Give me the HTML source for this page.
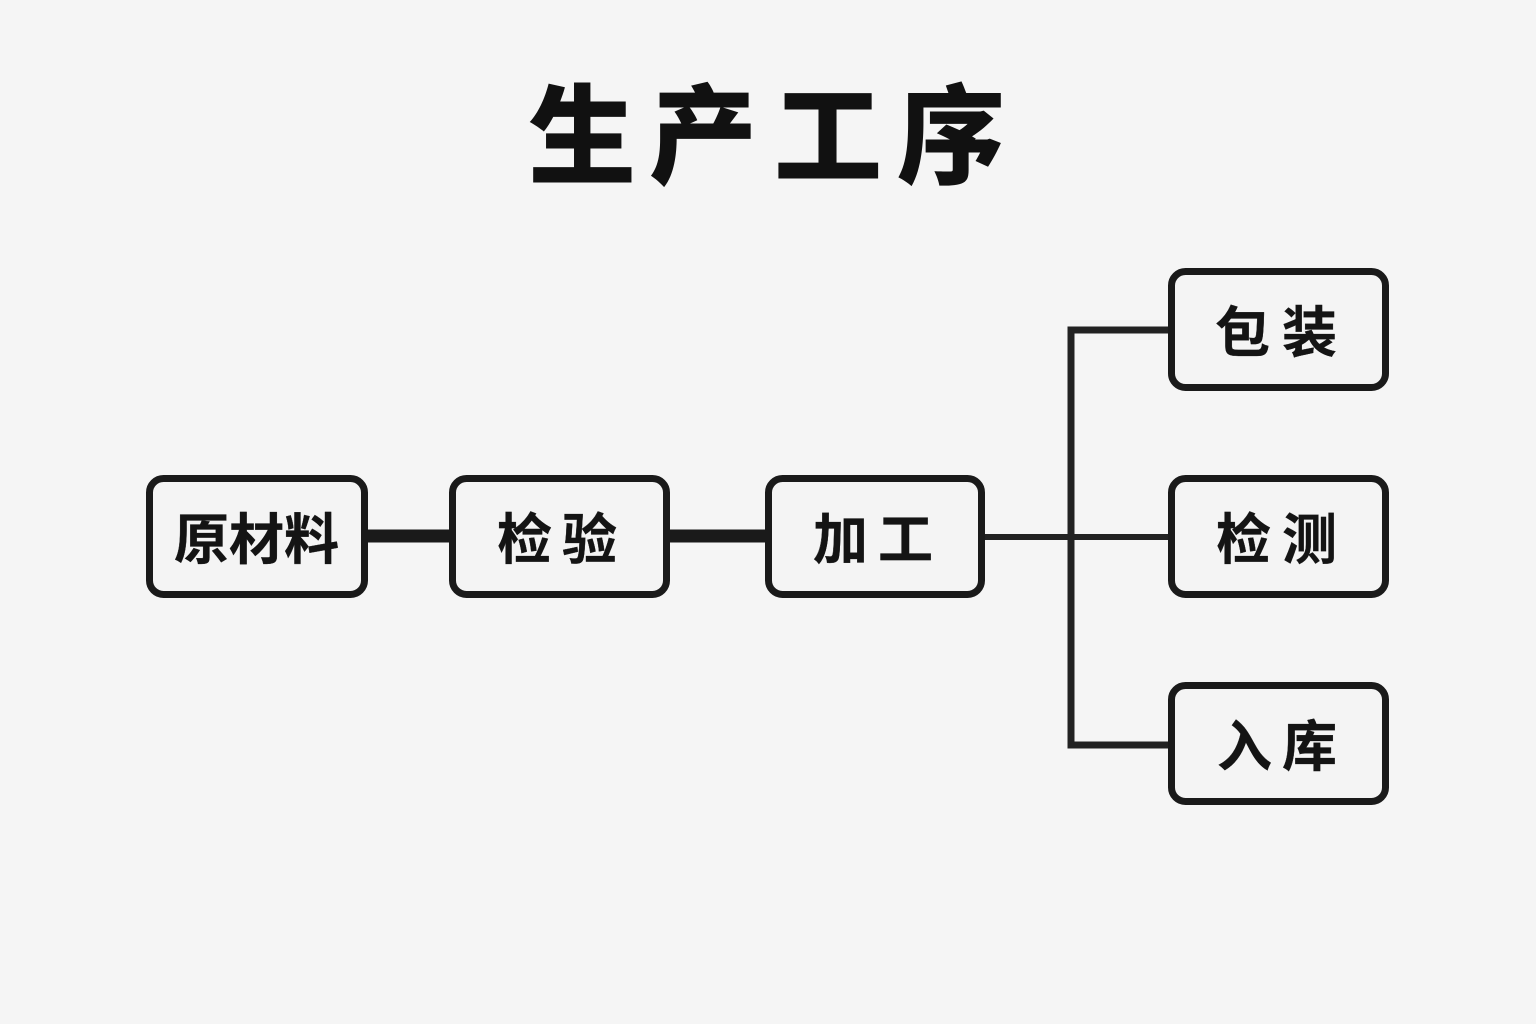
<!DOCTYPE html>
<html lang="zh">
<head>
<meta charset="utf-8">
<style>
html,body{margin:0;padding:0;background:#f5f5f5;}
svg{display:block;}
text{font-family:"Liberation Sans","Noto Sans CJK SC",sans-serif;font-weight:700;fill:#141414;}
.t{font-weight:900;fill:#111;}
.l{stroke:#141414;stroke-width:.3;}
</style>
</head>
<body>
<svg width="1536" height="1024" viewBox="0 0 1536 1024" xmlns="http://www.w3.org/2000/svg">
<rect width="1536" height="1024" fill="#f5f5f5"/>
<g fill="none" stroke="#1a1a1a">
<path d="M366 536H452M667 536H768" stroke-width="13"/>
<path d="M983 537H1170" stroke-width="6" stroke="#222"/>
<path d="M1170 330H1071V745H1170" stroke-width="7" stroke="#222"/>
</g>
<g fill="#f4f4f4" stroke="#1a1a1a" stroke-width="7">
<rect x="149.500" y="478.500" width="215" height="116" rx="14"/>
<rect x="452.500" y="478.500" width="214" height="116" rx="14"/>
<rect x="768.500" y="478.500" width="213" height="116" rx="14"/>
<rect x="1171.500" y="271.500" width="214" height="116" rx="14"/>
<rect x="1171.500" y="478.500" width="214" height="116" rx="14"/>
<rect x="1171.500" y="685.500" width="214" height="116" rx="14"/>
</g>
<text class="t" x="528 649 774 897" y="175" font-size="108">生产工序</text>
<text class="l" x="174" y="559" font-size="55" textLength="165" lengthAdjust="spacing">原材料</text>
<text class="l" x="497" y="559" font-size="55" textLength="120" lengthAdjust="spacing">检验</text>
<text class="l" x="813" y="559" font-size="55" textLength="120" lengthAdjust="spacing">加工</text>
<text class="l" x="1215" y="352" font-size="55" textLength="122" lengthAdjust="spacing">包装</text>
<text class="l" x="1216" y="559" font-size="55" textLength="121" lengthAdjust="spacing">检测</text>
<text class="l" x="1217" y="766" font-size="55" textLength="120" lengthAdjust="spacing">入库</text>
</svg>
</body>
</html>
